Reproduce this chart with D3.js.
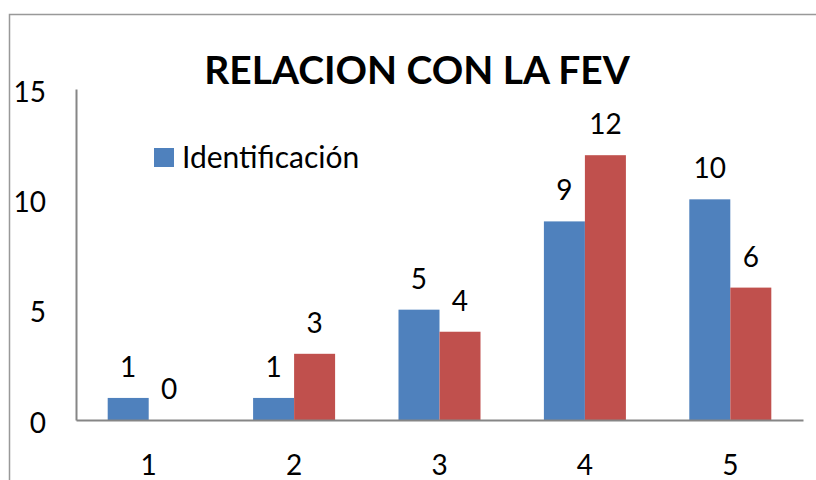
<!DOCTYPE html>
<html>
<head>
<meta charset="utf-8">
<script src="https://cdn.jsdelivr.net/npm/d3@7"></script>
<style>
  body { margin: 0; background: #fff; }
  text { font-family: Lato, "Open Sans", sans-serif; fill: #000; }
</style>
</head>
<body>
<div id="chart"></div>
<script>
var categories = ["1", "2", "3", "4", "5"];
var seriesNames = ["Identificación", "Serie 2"];
var identificacion = [1, 1, 5, 9, 10];
var serie2 = [0, 3, 4, 12, 6];
var yTicks = [0, 5, 10, 15];
var colors = ["#4F81BD", "#C0504D"];

var W = 816, H = 480;
var svg = d3.select('#chart').append('svg')
    .attr('width', W).attr('height', H);

// outer chart border (runs off the right and bottom edges)
svg.append('rect')
    .attr('x', 9.5).attr('y', 14.5)
    .attr('width', 820).attr('height', 480)
    .attr('fill', 'none').attr('stroke', '#999').attr('stroke-width', 1.5);

var plotL = 76, plotR = 803, plotT = 89, plotB = 420;

var x = d3.scaleBand().domain(categories).range([plotL, plotR]).paddingInner(0.436).paddingOuter(0.218);
var xs = d3.scaleBand().domain([0, 1]).range([0, x.bandwidth()]);
var y = d3.scaleLinear().domain([0, 15]).range([plotB, plotT]);

var data = categories.map(function(c, i){
    return {cat: c, vals: [identificacion[i], serie2[i]]};
});

var groups = svg.selectAll('g.cat').data(data).enter()
    .append('g').attr('class', 'cat')
    .attr('transform', function(d){ return 'translate(' + x(d.cat) + ',0)'; });

groups.selectAll('rect').data(function(d){ return d.vals; }).enter()
    .append('rect')
    .attr('x', function(d, i){ return xs(i); })
    .attr('width', xs.bandwidth())
    .attr('y', function(d){ return y(d); })
    .attr('height', function(d){ return plotB - y(d); })
    .attr('fill', function(d, i){ return colors[i]; });

groups.selectAll('text').data(function(d){ return d.vals; }).enter()
    .append('text')
    .attr('x', function(d, i){ return xs(i) + xs.bandwidth()/2; })
    .attr('y', function(d){ return y(d) - 21; })
    .attr('text-anchor', 'middle')
    .attr('font-size', 28)
    .text(function(d){ return d; });

// axes
var yAxis = svg.append('g').attr('transform', 'translate(' + plotL + ',0)')
    .call(d3.axisLeft(y).tickValues(yTicks).tickSize(0).tickPadding(30));
yAxis.select('.domain').attr('stroke', '#868686').attr('stroke-width', 2);
yAxis.selectAll('text').attr('font-size', 28).attr('dy', '0.43em')
    .style('font-family', 'Lato, sans-serif');

var xAxis = svg.append('g').attr('transform', 'translate(0,' + plotB + ')')
    .call(d3.axisBottom(x).tickSize(0).tickPadding(35));
xAxis.select('.domain').attr('stroke', '#868686').attr('stroke-width', 2);
xAxis.selectAll('text').attr('font-size', 28).style('font-family', 'Lato, sans-serif');

// title
svg.append('text')
    .attr('x', 417).attr('y', 84)
    .attr('text-anchor', 'middle')
    .attr('font-size', 39).attr('font-weight', 'bold')
    .text('RELACION CON LA FEV');

// legend
svg.append('rect').attr('x', 154).attr('y', 148).attr('width', 20).attr('height', 19)
    .attr('fill', colors[0]);
svg.append('text').attr('x', 182).attr('y', 168)
    .attr('font-size', 30)
    .text(seriesNames[0]);
</script>
</body>
</html>
